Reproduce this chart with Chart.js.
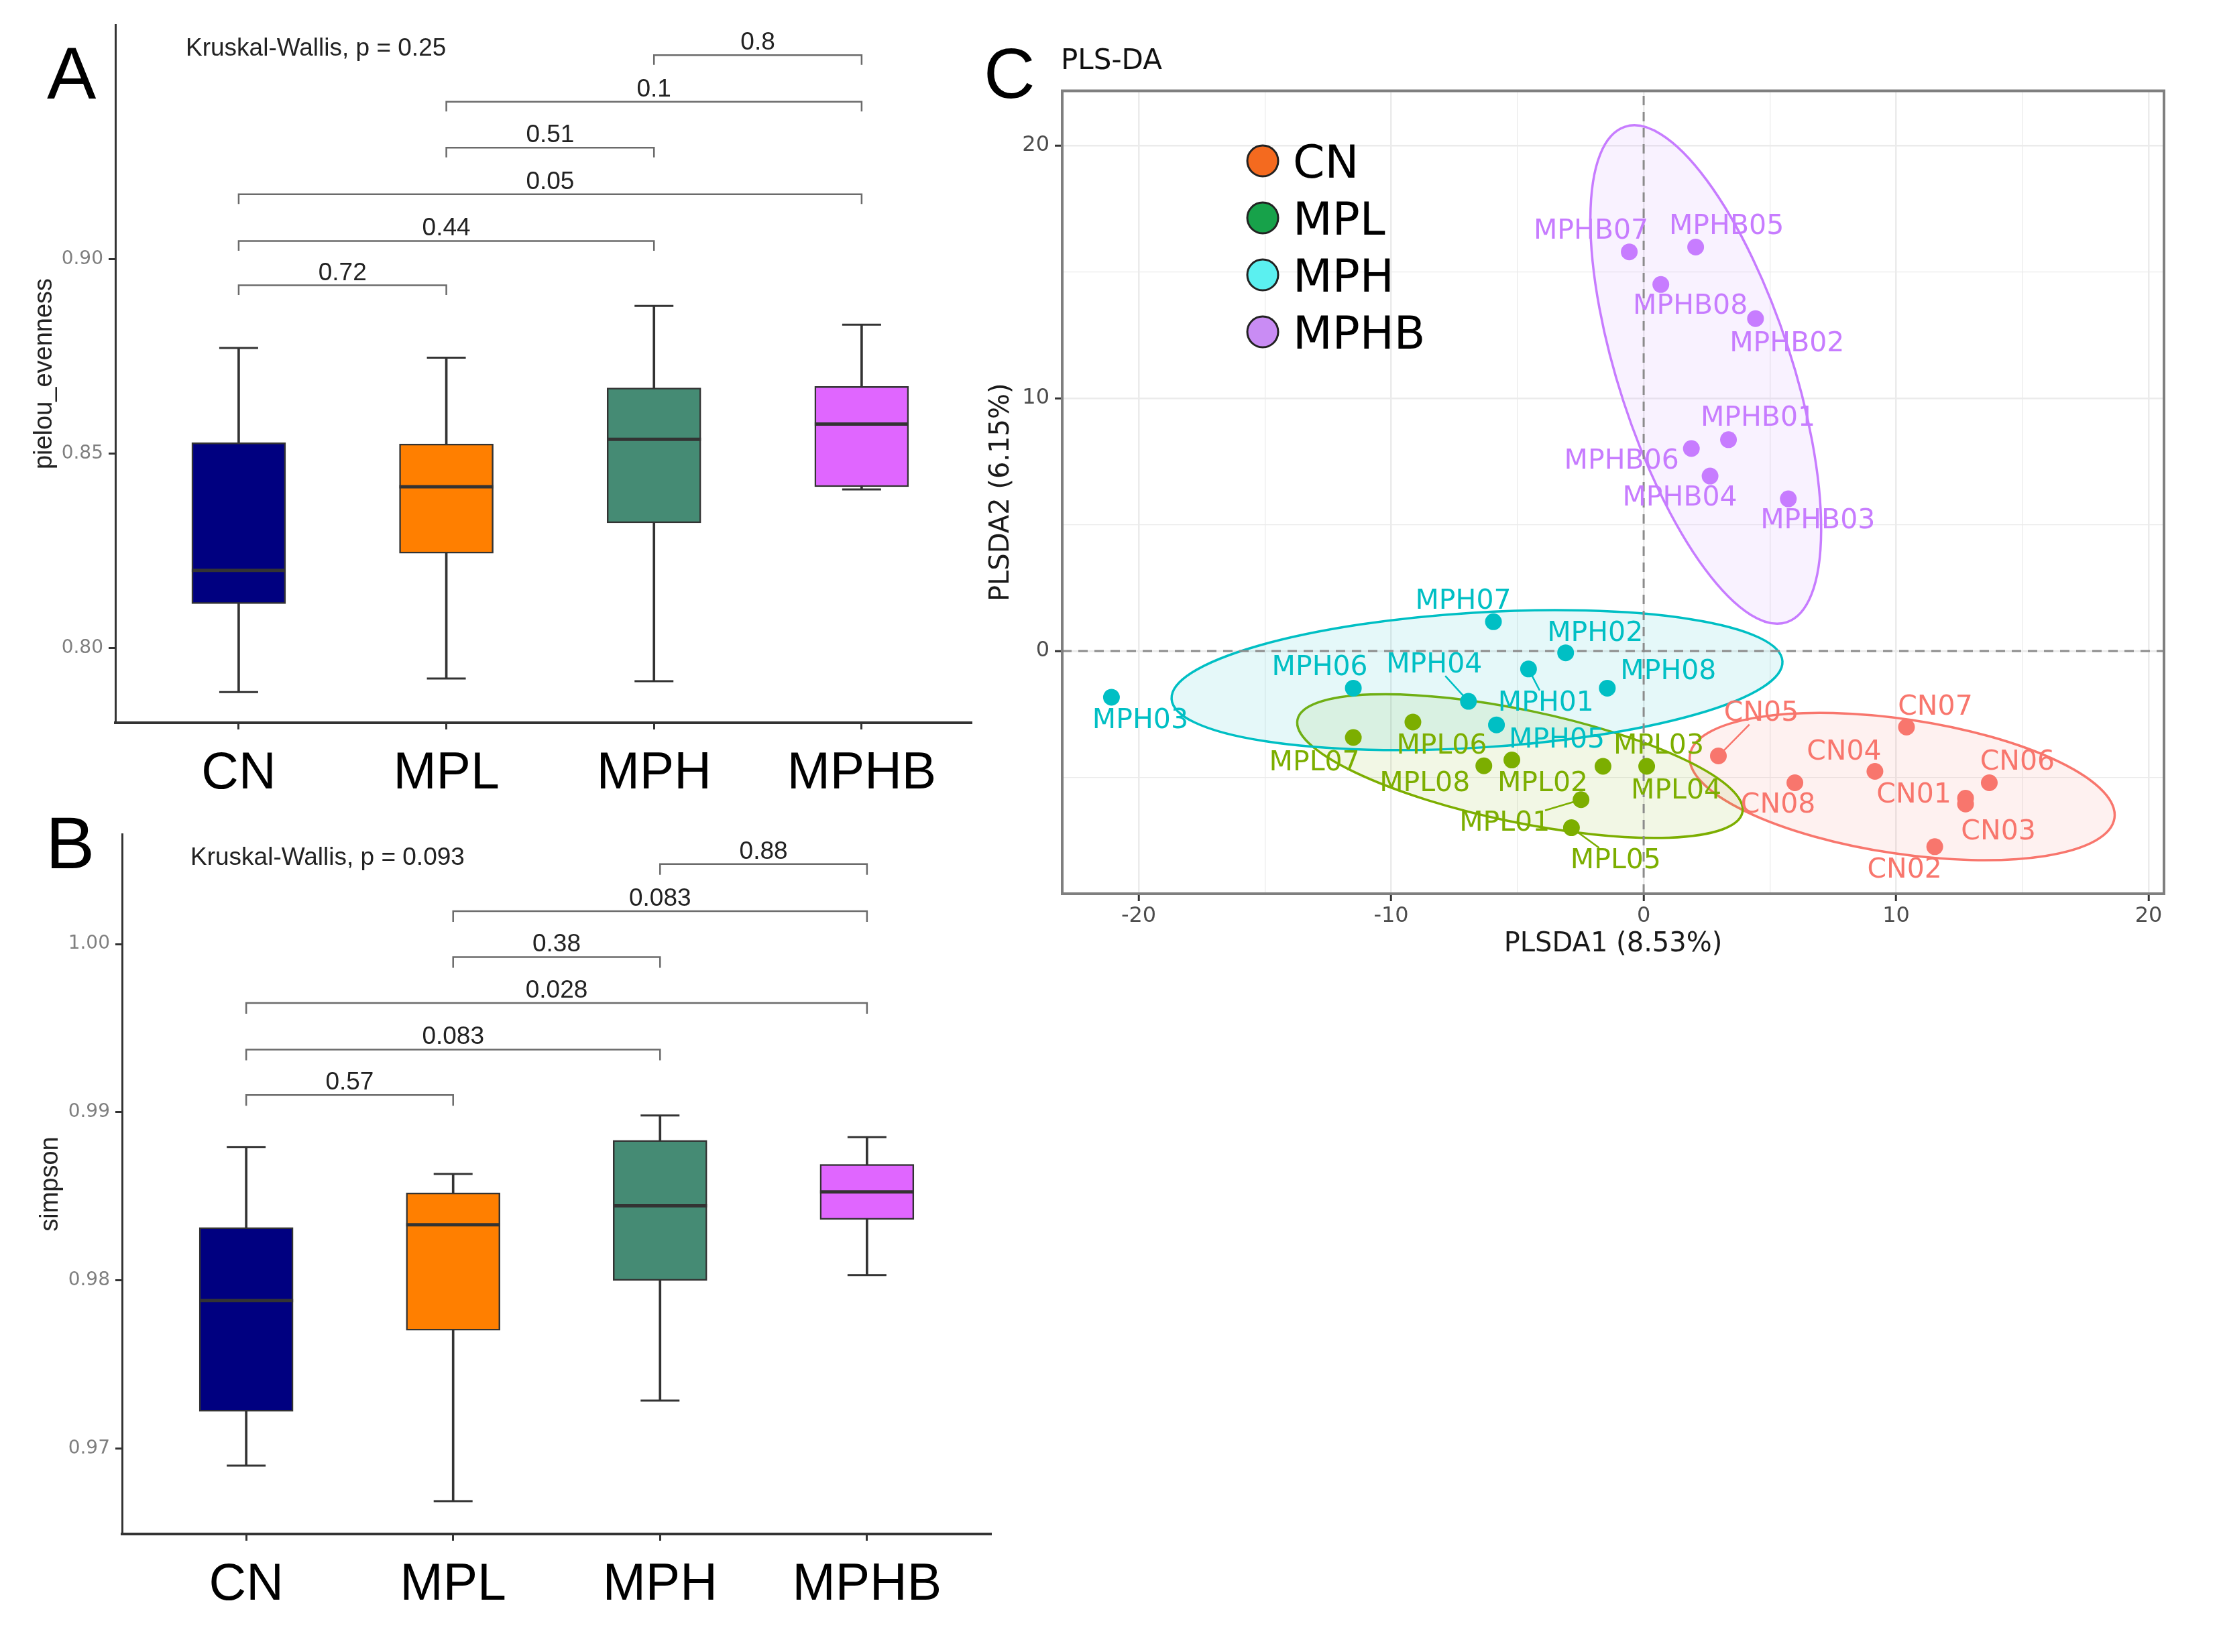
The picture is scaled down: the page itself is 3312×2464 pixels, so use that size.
<!DOCTYPE html>
<html>
<head>
<meta charset="utf-8">
<script src="https://cdn.jsdelivr.net/npm/chart.js@4.4.1/dist/chart.umd.min.js"></script>
<style>
  html, body { margin: 0; padding: 0; background: #fff; }
  body { width: 3312px; height: 2464px; position: relative; overflow: hidden; }
  canvas { position: absolute; }
</style>
</head>
<body>
<canvas id="boxA" width="1500" height="1230" style="left:0px;top:0px"></canvas>
<canvas id="boxB" width="1520" height="1264" style="left:0px;top:1200px"></canvas>
<canvas id="plsda" width="1872" height="1480" style="left:1440px;top:0px"></canvas>
<script>
const groups = ['CN', 'MPL', 'MPH', 'MPHB'];
const boxColors = ['#000080', '#FF7F00', '#458B74', '#E066FF'];

// A: pielou_evenness (min, Q1, median, Q3, max)
const evenMin = [0.7887, 0.7922, 0.7915, 0.8408];
const evenQ1  = [0.8114, 0.8244, 0.8322, 0.8415];
const evenMed = [0.8200, 0.8415, 0.8537, 0.8576];
const evenQ3  = [0.8528, 0.8525, 0.8669, 0.8673];
const evenMax = [0.8772, 0.8747, 0.8880, 0.8832];
const evenTicks = [0.80, 0.85, 0.90];
const pairs = [[1, 2], [1, 3], [1, 4], [2, 3], [2, 4], [3, 4]];
const evenP = ['0.72', '0.44', '0.05', '0.51', '0.1', '0.8'];
const evenBracketY = [0.8933, 0.9047, 0.9167, 0.9287, 0.9405, 0.9525];
const evenKW = 'Kruskal-Wallis, p = 0.25';

// B: simpson
const simpMin = [0.96900, 0.96688, 0.97286, 0.98032];
const simpQ1  = [0.97222, 0.97704, 0.98000, 0.98363];
const simpMed = [0.97881, 0.98331, 0.98444, 0.98527];
const simpQ3  = [0.98315, 0.98521, 0.98833, 0.98691];
const simpMax = [0.98794, 0.98633, 0.98981, 0.98852];
const simpTicks = [0.97, 0.98, 0.99, 1.00];
const simpP = ['0.57', '0.083', '0.028', '0.38', '0.083', '0.88'];
const simpBracketY = [0.99103, 0.99373, 0.99650, 0.99923, 1.00196, 1.00476];
const simpKW = 'Kruskal-Wallis, p = 0.093';

// C: PLS-DA scores
const cnNames = ['CN01', 'CN02', 'CN03', 'CN04', 'CN05', 'CN06', 'CN07', 'CN08'];
const cnX = [12.75, 11.53, 12.75, 9.16, 2.96, 13.69, 10.41, 5.99];
const cnY = [-5.82, -7.74, -6.05, -4.76, -4.15, -5.21, -3.01, -5.21];
const mplNames = ['MPL01', 'MPL02', 'MPL03', 'MPL04', 'MPL05', 'MPL06', 'MPL07', 'MPL08'];
const mplX = [-2.48, -5.22, -1.61, 0.12, -2.86, -9.14, -11.50, -6.33];
const mplY = [-5.88, -4.31, -4.56, -4.56, -6.99, -2.81, -3.42, -4.54];
const mphNames = ['MPH01', 'MPH02', 'MPH03', 'MPH04', 'MPH05', 'MPH06', 'MPH07', 'MPH08'];
const mphX = [-4.56, -3.09, -21.08, -6.94, -5.83, -11.50, -5.95, -1.44];
const mphY = [-0.71, -0.07, -1.83, -1.99, -2.92, -1.47, 1.16, -1.47];
const mphbNames = ['MPHB01', 'MPHB02', 'MPHB03', 'MPHB04', 'MPHB05', 'MPHB06', 'MPHB07', 'MPHB08'];
const mphbX = [3.36, 4.43, 5.73, 2.63, 2.06, 1.89, -0.57, 0.68];
const mphbY = [8.36, 13.15, 6.02, 6.92, 15.98, 8.01, 15.79, 14.50];

// confidence ellipses (centre, semi-axes, angle in degrees) per group
const ellCx = [10.24, -4.90, -6.60, 2.46];
const ellCy = [-5.36, -4.55, -1.15, 10.94];
const ellA = [8.50, 9.00, 12.12, 10.31];
const ellB = [2.66, 2.22, 2.67, 3.43];
const ellAngle = [-8.47, -11.75, 3.53, 108.1];

const xBreaksC = [-20, -15, -10, -5, 0, 5, 10, 15, 20];
const yBreaksC = [-5, 0, 5, 10, 15, 20];

// look
const pointColors = ['#F8766D', '#7CAE00', '#00BFC4', '#C77CFF'];
const legendFill = ['#F46A1F', '#17A24A', '#5BF0F0', '#C98CF4'];

// label offsets in pixels from each point, and whether a leader line is drawn
const cnOff = [[-77, -6], [-45, 33], [49, 40], [-46, -30], [64, -65], [42, -32], [43, -31], [-25, 32]];
const cnSeg = [0, 0, 0, 0, 1, 0, 0, 0];
const mplOff = [[-114, 34], [46, 34], [83, -32], [44, 35], [66, 48], [43, 34], [-58, 36], [-88, 25]];
const mplSeg = [1, 0, 0, 0, 1, 0, 0, 0];
const mphOff = [[26, 50], [44, -30], [43, 33], [-51, -56], [90, 21], [-50, -32], [-45, -32], [91, -26]];
const mphSeg = [1, 0, 0, 1, 0, 0, 0, 0];
const mphbOff = [[44, -33], [47, 36], [44, 31], [-45, 31], [46, -32], [-104, 17], [-57, -32], [44, 31]];
const mphbSeg = [0, 0, 0, 0, 0, 0, 0, 0];

Chart.defaults.animation = false;
Chart.defaults.events = [];

const boxText = {
  id: 'boxText',
  afterDatasetsDraw(chart, args, o) {
    const { ctx, scales: { x, y } } = chart;
    ctx.save();
    ctx.font = '37px "Liberation Sans"';
    ctx.fillStyle = '#222';
    ctx.textAlign = 'center';
    ctx.textBaseline = 'alphabetic';
    pairs.forEach((p, k) => {
      const xm = (x.getPixelForValue(p[0]) + x.getPixelForValue(p[1])) / 2;
      ctx.fillText(o.labels[k], xm, y.getPixelForValue(o.heights[k]) - 8);
    });
    ctx.textAlign = 'left';
    ctx.fillText(o.kw, o.kwX, o.kwY);
    ctx.font = '110px "Liberation Sans"';
    ctx.fillStyle = '#000';
    ctx.fillText(o.letter, o.letterX, o.letterY);
    ctx.restore();
  }
};

function boxChart(id, d) {
  const at = (i) => i + 1;
  const caps = [];
  groups.forEach((g, i) => {
    caps.push({ x: at(i), y: d.min[i] }, { x: at(i), y: d.max[i] });
  });
  const brackets = pairs.map((p, k) => ({
    type: 'line',
    data: [
      { x: p[0], y: d.heights[k] - d.tip },
      { x: p[0], y: d.heights[k] },
      { x: p[1], y: d.heights[k] },
      { x: p[1], y: d.heights[k] - d.tip }
    ],
    borderColor: '#6b6b6b',
    borderWidth: 2.5,
    pointRadius: 0,
    order: 0
  }));

  return new Chart(document.getElementById(id), {
    type: 'bar',
    data: {
      datasets: [
        {
          data: groups.map((g, i) => ({ x: at(i), y: [d.q1[i], d.q3[i]] })),
          backgroundColor: boxColors,
          borderColor: '#333',
          borderWidth: 2.5,
          borderSkipped: false,
          barThickness: 140,
          grouped: false,
          order: 2
        },
        {
          data: groups.map((g, i) => ({ x: at(i), y: [d.min[i], d.max[i]] })),
          backgroundColor: '#333',
          borderWidth: 0,
          barThickness: 3,
          grouped: false,
          order: 3
        },
        {
          type: 'line',
          data: groups.map((g, i) => ({ x: at(i), y: d.med[i] })),
          showLine: false,
          pointStyle: 'line',
          pointRadius: 70,
          pointBorderWidth: 5,
          pointBorderColor: '#333',
          order: 1
        },
        {
          type: 'line',
          data: caps,
          showLine: false,
          pointStyle: 'line',
          pointRadius: 29,
          pointBorderWidth: 3,
          pointBorderColor: '#333',
          order: 3
        },
        ...brackets
      ]
    },
    options: {
      responsive: false,
      layout: { autoPadding: false, padding: { left: 0, top: d.top, right: d.right, bottom: 0 } },
      plugins: {
        legend: { display: false },
        tooltip: { enabled: false },
        boxText: d.text
      },
      scales: {
        x: {
          type: 'linear',
          offset: false,
          min: d.xMin,
          max: d.xMax,
          afterBuildTicks: (s) => { s.ticks = groups.map((g, i) => ({ value: at(i) })); },
          afterFit: (s) => { s.height = d.xAxisH; },
          ticks: {
            callback: (v) => groups[v - 1] || '',
            font: { family: 'Liberation Sans', size: 77 },
            color: '#000',
            padding: 21,
            autoSkip: false,
            maxRotation: 0
          },
          grid: { offset: false, drawOnChartArea: false, tickLength: 10, tickColor: '#333', tickWidth: 3 },
          border: { display: true, color: '#333', width: 4 }
        },
        y: {
          type: 'linear',
          min: d.yMin,
          max: d.yMax,
          afterBuildTicks: (s) => { s.ticks = d.ticks.map((v) => ({ value: v })); },
          afterFit: (s) => { s.width = d.yAxisW; },
          ticks: {
            callback: (v) => v.toFixed(2),
            font: { family: 'DejaVu Sans', size: 28 },
            color: '#7f7f7f',
            padding: 8
          },
          grid: { drawOnChartArea: false, tickLength: 10, tickColor: '#333', tickWidth: 3 },
          border: { display: true, color: '#333', width: 3 },
          title: {
            display: true,
            text: d.title,
            font: { family: 'Liberation Sans', size: 38 },
            color: '#222',
            padding: { top: d.titlePad, bottom: 0 }
          }
        }
      }
    },
    plugins: [boxText]
  });
}

boxChart('boxA', {
  min: evenMin, q1: evenQ1, med: evenMed, q3: evenQ3, max: evenMax,
  heights: evenBracketY, tip: 0.0025, ticks: evenTicks,
  yMin: 0.7808, yMax: 0.9603, xMin: 0.406, xMax: 4.53,
  top: 37, right: 51, xAxisH: 152, yAxisW: 172, titlePad: 44,
  title: 'pielou_evenness',
  text: { labels: evenP, heights: evenBracketY, kw: evenKW, kwX: 277, kwY: 83, letter: 'A', letterX: 70, letterY: 147 }
});

boxChart('boxB', {
  min: simpMin, q1: simpQ1, med: simpMed, q3: simpQ3, max: simpMax,
  heights: simpBracketY, tip: 0.00064, ticks: simpTicks,
  yMin: 0.96493, yMax: 1.00654, xMin: 0.4, xMax: 4.6,
  top: 44, right: 42, xAxisH: 176, yAxisW: 182, titlePad: 53,
  title: 'simpson',
  text: { labels: simpP, heights: simpBracketY, kw: simpKW, kwX: 284, kwY: 90, letter: 'B', letterX: 68, letterY: 95 }
});

// ---- panel C ----
const plsNames = [cnNames, mplNames, mphNames, mphbNames];
const plsX = [cnX, mplX, mphX, mphbX];
const plsY = [cnY, mplY, mphY, mphbY];
const plsOff = [cnOff, mplOff, mphOff, mphbOff];
const plsSeg = [cnSeg, mplSeg, mphSeg, mphbSeg];

const xMinC = -23.03, xMaxC = 20.61, yMinC = -9.6, yMaxC = 22.16;

function withAlpha(hex, a) {
  const n = parseInt(hex.slice(1), 16);
  return `rgba(${(n >> 16) & 255},${(n >> 8) & 255},${n & 255},${a})`;
}

const plsDecor = {
  id: 'plsDecor',
  beforeDatasetsDraw(chart) {
    const { ctx, chartArea: ca, scales: { x, y } } = chart;
    const ux = x.getPixelForValue(1) - x.getPixelForValue(0);
    const uy = y.getPixelForValue(1) - y.getPixelForValue(0);
    ctx.save();
    ctx.beginPath();
    ctx.rect(ca.left, ca.top, ca.width, ca.height);
    ctx.clip();
    groups.forEach((g, i) => {
      ctx.save();
      ctx.translate(x.getPixelForValue(ellCx[i]), y.getPixelForValue(ellCy[i]));
      ctx.scale(ux, uy);
      ctx.rotate(ellAngle[i] * Math.PI / 180);
      ctx.beginPath();
      ctx.ellipse(0, 0, ellA[i], ellB[i], 0, 0, Math.PI * 2);
      ctx.restore();
      ctx.fillStyle = withAlpha(pointColors[i], 0.1);
      ctx.fill();
      ctx.lineWidth = 3.5;
      ctx.strokeStyle = pointColors[i];
      ctx.stroke();
    });
    ctx.restore();
  },
  afterDatasetsDraw(chart) {
    const { ctx, scales: { x, y } } = chart;
    ctx.save();
    ctx.font = '41px "DejaVu Sans"';
    ctx.textAlign = 'center';
    ctx.textBaseline = 'middle';
    groups.forEach((g, i) => {
      plsNames[i].forEach((name, k) => {
        const px = x.getPixelForValue(plsX[i][k]);
        const py = y.getPixelForValue(plsY[i][k]);
        const lx = px + plsOff[i][k][0];
        const ly = py + plsOff[i][k][1];
        ctx.fillStyle = pointColors[i];
        ctx.strokeStyle = pointColors[i];
        if (plsSeg[i][k]) {
          const hw = ctx.measureText(name).width / 2 + 3, hh = 18;
          const dx = px - lx, dy = py - ly;
          const t = Math.min(hw / Math.max(Math.abs(dx), 1e-6), hh / Math.max(Math.abs(dy), 1e-6));
          if (t < 1) {
            ctx.lineWidth = 2.5;
            ctx.beginPath();
            ctx.moveTo(px, py);
            ctx.lineTo(lx + dx * t, ly + dy * t);
            ctx.stroke();
          }
        }
        ctx.fillText(name, lx, ly + 2);
      });
    });
    ctx.restore();
  },
  afterDraw(chart) {
    const { ctx, chartArea: ca } = chart;
    ctx.save();
    ctx.strokeStyle = '#7f7f7f';
    ctx.lineWidth = 4;
    ctx.strokeRect(ca.left, ca.top, ca.width, ca.height);

    groups.forEach((g, i) => {
      const cy = 240 + i * 85;
      ctx.beginPath();
      ctx.arc(443, cy, 23, 0, Math.PI * 2);
      ctx.fillStyle = legendFill[i];
      ctx.fill();
      ctx.lineWidth = 3;
      ctx.strokeStyle = '#222';
      ctx.stroke();
      ctx.fillStyle = '#000';
      ctx.font = '68px "DejaVu Sans"';
      ctx.textAlign = 'left';
      ctx.textBaseline = 'middle';
      ctx.fillText(g, 488, cy + 7);
    });

    ctx.textBaseline = 'alphabetic';
    ctx.textAlign = 'left';
    ctx.fillStyle = '#111';
    ctx.font = '42px "DejaVu Sans"';
    ctx.fillText('PLS-DA', 142, 103);
    ctx.fillStyle = '#000';
    ctx.font = '106px "Liberation Sans"';
    ctx.fillText('C', 27, 146);
    ctx.restore();
  }
};

const pointSets = groups.map((g, i) => ({
  label: g,
  data: plsX[i].map((v, k) => ({ x: v, y: plsY[i][k] })),
  pointRadius: 12.5,
  pointBackgroundColor: pointColors[i],
  pointBorderWidth: 0,
  order: 0
}));

const zeroLines = [
  {
    type: 'line',
    data: [{ x: 0, y: yMinC }, { x: 0, y: yMaxC }],
    borderColor: '#8c8c8c', borderWidth: 3, borderDash: [14, 10], pointRadius: 0, order: 5
  },
  {
    type: 'line',
    data: [{ x: xMinC, y: 0 }, { x: xMaxC, y: 0 }],
    borderColor: '#8c8c8c', borderWidth: 3, borderDash: [14, 10], pointRadius: 0, order: 5
  }
];

const gridWidth = (c) => (c.tick && c.tick.value % 10 === 0 ? 2.5 : 1.3);
const tickCol = (c) => (c.tick && c.tick.value % 10 === 0 ? '#333' : 'rgba(0,0,0,0)');

new Chart(document.getElementById('plsda'), {
  type: 'scatter',
  data: { datasets: [...pointSets, ...zeroLines] },
  options: {
    responsive: false,
    layout: { autoPadding: false, padding: { left: 0, top: 135.5, right: 85, bottom: 0 } },
    plugins: { legend: { display: false }, tooltip: { enabled: false } },
    scales: {
      x: {
        type: 'linear',
        min: xMinC,
        max: xMaxC,
        afterBuildTicks: (s) => { s.ticks = xBreaksC.map((v) => ({ value: v })); },
        afterFit: (s) => { s.height = 147; },
        ticks: {
          callback: (v) => (v % 10 === 0 ? String(v) : ''),
          font: { family: 'DejaVu Sans', size: 32 },
          color: '#4d4d4d',
          padding: 3,
          maxRotation: 0,
          autoSkip: false
        },
        grid: { color: '#ebebeb', lineWidth: gridWidth, tickLength: 11, tickColor: tickCol, tickWidth: 3 },
        border: { display: false },
        title: {
          display: true,
          text: 'PLSDA1 (8.53%)',
          font: { family: 'DejaVu Sans', size: 40 },
          color: '#1a1a1a',
          padding: { top: 0, bottom: 47 }
        }
      },
      y: {
        type: 'linear',
        min: yMinC,
        max: yMaxC,
        afterBuildTicks: (s) => { s.ticks = yBreaksC.map((v) => ({ value: v })); },
        afterFit: (s) => { s.width = 144; },
        ticks: {
          callback: (v) => (v % 10 === 0 ? String(v) : ''),
          font: { family: 'DejaVu Sans', size: 32 },
          color: '#4d4d4d',
          padding: 8,
          autoSkip: false
        },
        grid: { color: '#ebebeb', lineWidth: gridWidth, tickLength: 11, tickColor: tickCol, tickWidth: 3 },
        border: { display: false },
        title: {
          display: true,
          text: 'PLSDA2 (6.15%)',
          font: { family: 'DejaVu Sans', size: 40 },
          color: '#1a1a1a',
          padding: { top: 30, bottom: 0 }
        }
      }
    }
  },
  plugins: [plsDecor]
});
</script>
</body>
</html>
